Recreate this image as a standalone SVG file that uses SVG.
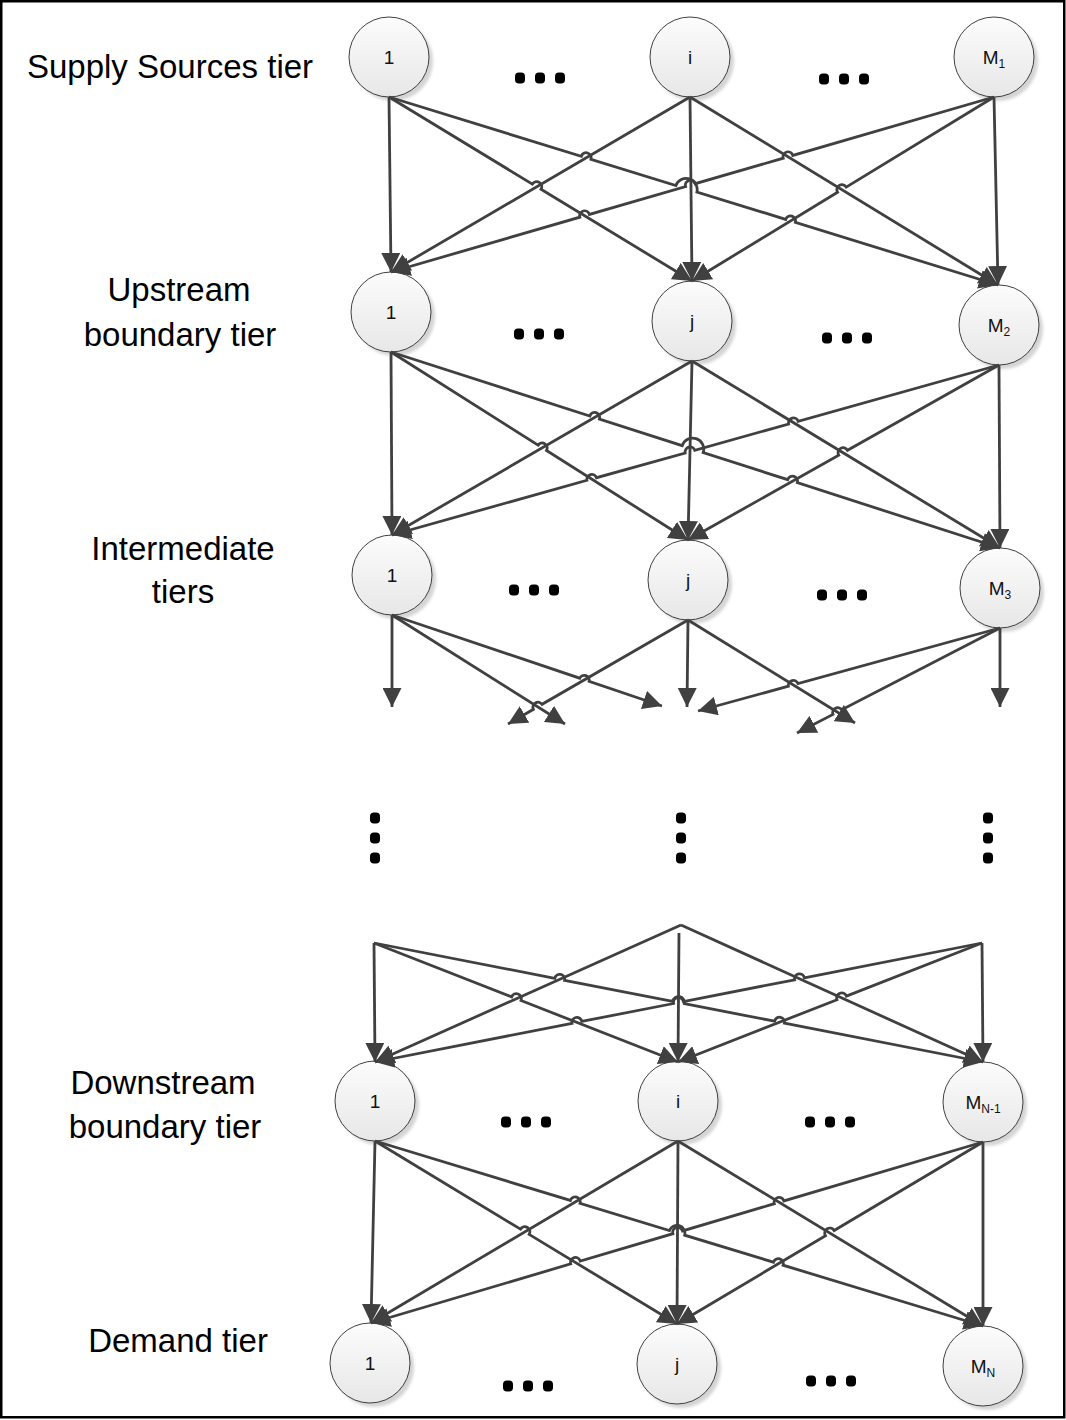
<svg xmlns="http://www.w3.org/2000/svg" width="1066" height="1420" viewBox="0 0 1066 1420">
  <defs>
    <style>
      .tier { font-family: "Liberation Sans", Arial, sans-serif; font-size: 33px; fill: #000; text-anchor: middle; }
      .lbl { font-family: "Liberation Sans", Arial, sans-serif; font-size: 19px; fill: #111; text-anchor: middle; }
      .sub { font-size: 12px; }
      .body { fill: url(#nodeFill); stroke: #404040; stroke-width: 1; }
      .shadow { fill: #d4d4d4; filter: url(#soft); }
      .c { fill: none; stroke: #404040; stroke-width: 2.8; marker-end: url(#ah); }
      .dot { fill: #000; }
    </style>
    <linearGradient id="nodeFill" x1="0" y1="0" x2="0" y2="1">
      <stop offset="0" stop-color="#fcfcfc"/>
      <stop offset="1" stop-color="#e7e7e7"/>
    </linearGradient>
    <filter id="soft" x="-20%" y="-20%" width="140%" height="140%">
      <feGaussianBlur stdDeviation="1.6"/>
    </filter>
    <marker id="ah" markerUnits="userSpaceOnUse" markerWidth="19" markerHeight="19" refX="19" refY="9.5" orient="auto">
      <path d="M0,0 L19,9.5 L0,19 z" fill="#404040"/>
    </marker>
    <rect id="d" class="dot" x="-5" y="-5.5" width="10" height="11" rx="4"/>
  </defs>

  <rect x="1.25" y="1.25" width="1063" height="1416" fill="#fff" stroke="#000" stroke-width="2.5"/>

  <!-- tier captions -->
  <g id="captions">
    <text class="tier" x="170" y="78">Supply Sources tier</text>
    <text class="tier" x="179" y="301">Upstream</text>
    <text class="tier" x="180" y="346">boundary tier</text>
    <text class="tier" x="183" y="560">Intermediate</text>
    <text class="tier" x="183" y="603">tiers</text>
    <text class="tier" x="163" y="1094">Downstream</text>
    <text class="tier" x="165" y="1138">boundary tier</text>
    <text class="tier" x="178" y="1352">Demand tier</text>
  </g>

  <!-- supply sources tier -->
  <g id="s1"><circle class="shadow" cx="393" cy="61" r="40"/><circle class="body" cx="389" cy="57" r="40"/><text class="lbl" x="389" y="64">1</text></g>
  <g id="si"><circle class="shadow" cx="694" cy="61" r="40"/><circle class="body" cx="690" cy="57" r="40"/><text class="lbl" x="690" y="64">i</text></g>
  <g id="sM1"><circle class="shadow" cx="998" cy="61" r="40"/><circle class="body" cx="994" cy="57" r="40"/><text class="lbl" x="994" y="64">M<tspan class="sub" dy="4">1</tspan></text></g>

  <!-- upstream boundary tier -->
  <g id="u1"><circle class="shadow" cx="395" cy="316" r="40"/><circle class="body" cx="391" cy="312" r="40"/><text class="lbl" x="391" y="319">1</text></g>
  <g id="uj"><circle class="shadow" cx="696" cy="325" r="40"/><circle class="body" cx="692" cy="321" r="40"/><text class="lbl" x="692" y="328">j</text></g>
  <g id="uM2"><circle class="shadow" cx="1003" cy="329" r="40"/><circle class="body" cx="999" cy="325" r="40"/><text class="lbl" x="999" y="332">M<tspan class="sub" dy="4">2</tspan></text></g>

  <!-- intermediate tiers -->
  <g id="m1"><circle class="shadow" cx="396" cy="579" r="40"/><circle class="body" cx="392" cy="575" r="40"/><text class="lbl" x="392" y="582">1</text></g>
  <g id="mj"><circle class="shadow" cx="692" cy="584" r="40"/><circle class="body" cx="688" cy="580" r="40"/><text class="lbl" x="688" y="587">j</text></g>
  <g id="mM3"><circle class="shadow" cx="1004" cy="592" r="40"/><circle class="body" cx="1000" cy="588" r="40"/><text class="lbl" x="1000" y="595">M<tspan class="sub" dy="4">3</tspan></text></g>

  <!-- downstream boundary tier -->
  <g id="b1"><circle class="shadow" cx="379" cy="1105" r="40"/><circle class="body" cx="375" cy="1101" r="40"/><text class="lbl" x="375" y="1108">1</text></g>
  <g id="bi"><circle class="shadow" cx="682" cy="1105" r="40"/><circle class="body" cx="678" cy="1101" r="40"/><text class="lbl" x="678" y="1108">i</text></g>
  <g id="bMN1"><circle class="shadow" cx="987" cy="1106" r="40"/><circle class="body" cx="983" cy="1102" r="40"/><text class="lbl" x="983" y="1109">M<tspan class="sub" dy="4">N-1</tspan></text></g>

  <!-- demand tier -->
  <g id="d1"><circle class="shadow" cx="374" cy="1367" r="40"/><circle class="body" cx="370" cy="1363" r="40"/><text class="lbl" x="370" y="1370">1</text></g>
  <g id="dj"><circle class="shadow" cx="681" cy="1368" r="40"/><circle class="body" cx="677" cy="1364" r="40"/><text class="lbl" x="677" y="1371">j</text></g>
  <g id="dMN"><circle class="shadow" cx="987" cy="1370" r="40"/><circle class="body" cx="983" cy="1366" r="40"/><text class="lbl" x="983" y="1373">M<tspan class="sub" dy="4">N</tspan></text></g>

  <!-- ellipses between nodes -->
  <g id="ellipses">
    <use href="#d" x="520" y="78"/><use href="#d" x="540" y="78"/><use href="#d" x="560" y="78"/>
    <use href="#d" x="824" y="79"/><use href="#d" x="844" y="79"/><use href="#d" x="864" y="79"/>
    <use href="#d" x="519" y="334"/><use href="#d" x="539" y="334"/><use href="#d" x="559" y="334"/>
    <use href="#d" x="827" y="338"/><use href="#d" x="847" y="338"/><use href="#d" x="867" y="338"/>
    <use href="#d" x="514" y="590"/><use href="#d" x="534" y="590"/><use href="#d" x="554" y="590"/>
    <use href="#d" x="822" y="595"/><use href="#d" x="842" y="595"/><use href="#d" x="862" y="595"/>
    <use href="#d" x="506" y="1122"/><use href="#d" x="526" y="1122"/><use href="#d" x="546" y="1122"/>
    <use href="#d" x="810" y="1122"/><use href="#d" x="830" y="1122"/><use href="#d" x="850" y="1122"/>
    <use href="#d" x="508" y="1386"/><use href="#d" x="528" y="1386"/><use href="#d" x="548" y="1386"/>
    <use href="#d" x="811" y="1381"/><use href="#d" x="831" y="1381"/><use href="#d" x="851" y="1381"/>
    <use href="#d" x="375" y="818"/><use href="#d" x="375" y="838"/><use href="#d" x="375" y="858"/>
    <use href="#d" x="681" y="818"/><use href="#d" x="681" y="838"/><use href="#d" x="681" y="858"/>
    <use href="#d" x="988" y="818"/><use href="#d" x="988" y="838"/><use href="#d" x="988" y="858"/>
  </g>

  <g id="connectors">
    <!-- supply sources to upstream boundary -->
    <path class="c" d="M389,97 L391,272"/>
    <path class="c" d="M389,97 L532.4,184.1 A5,5 0 0 1 541.0,189.3 L692,281"/>
    <path class="c" d="M389,97 L581.3,156.3 A5,5 0 0 1 590.9,159.3 L675.9,185.6 A11,11 0 0 1 696.9,192.0 L785.7,219.4 A5,5 0 0 1 795.3,222.4 L998,285"/>
    <path class="c" d="M690,97 L391,272"/>
    <path class="c" d="M690,97 L692,281"/>
    <path class="c" d="M690,97 L998,285"/>
    <path class="c" d="M994,97 L792.8,155.4 A5,5 0 0 0 783.2,158.2 L695.2,183.7 A5,5 0 0 0 685.6,186.5 L589.4,214.4 A5,5 0 0 0 579.8,217.2 L391,272"/>
    <path class="c" d="M994,97 L846.2,187.1 A5,5 0 0 0 837.6,192.3 L692,281"/>
    <path class="c" d="M994,97 L998,285"/>

    <!-- upstream boundary to intermediate -->
    <path class="c" d="M391,352 L392,535"/>
    <path class="c" d="M391,352 L538.1,445.1 A5,5 0 0 1 546.5,450.5 L688,540"/>
    <path class="c" d="M391,352 L589.8,416.0 A5,5 0 0 1 599.4,419.0 L682.2,445.7 A11,11 0 0 1 703.2,452.5 L787.7,479.7 A5,5 0 0 1 797.3,482.7 L1000,548"/>
    <path class="c" d="M692,361 L392,535"/>
    <path class="c" d="M692,361 L688,540"/>
    <path class="c" d="M692,361 L1000,548"/>
    <path class="c" d="M999,365 L798.2,421.3 A5,5 0 0 0 788.6,424.0 L694.8,450.3 A5,5 0 0 0 685.2,453.0 L596.5,477.7 A5,5 0 0 0 586.9,480.3 L392,535"/>
    <path class="c" d="M999,365 L847.5,450.3 A5,5 0 0 0 838.7,455.2 L688,540"/>
    <path class="c" d="M999,365 L1000,548"/>

    <!-- intermediate outgoing -->
    <path class="c" d="M392,615 L392,707"/>
    <path class="c" d="M392,615 L565,724"/>
    <path class="c" d="M392,615 L579.7,678.2 A5,5 0 0 1 589.1,681.4 L662,706"/>
    <path class="c" d="M688,620 L542.0,704.3 A5,5 0 0 0 533.4,709.3 L508,724"/>
    <path class="c" d="M688,620 L687,707"/>
    <path class="c" d="M688,620 L855,723"/>
    <path class="c" d="M1000,628 L798.0,683.6 A5,5 0 0 0 788.4,686.2 L698,711"/>
    <path class="c" d="M1000,628 L841.8,709.8 A5,5 0 0 0 833.0,714.4 L797,733"/>
    <path class="c" d="M1000,628 L1000,707"/>

    <!-- incoming to downstream boundary -->
    <path class="c" d="M374,943 L375,1062"/>
    <path class="c" d="M374,943 L511.6,996.9 A5,5 0 0 1 521.0,1000.5 L678,1062"/>
    <path class="c" d="M374,943 L554.8,978.3 A5,5 0 0 1 564.6,980.3 L672.6,1001.4 A6,6 0 0 1 684.4,1003.7 L774.6,1021.2 A5,5 0 0 1 784.4,1023.2 L983,1062"/>
    <path class="c" d="M681,925 L375,1062"/>
    <path class="c" d="M679,933 L678,1062"/>
    <path class="c" d="M681,925 L983,1062"/>
    <path class="c" d="M982,943 L804.4,977.8 A5,5 0 0 0 794.6,979.8 L683.4,1001.5 A5,5 0 0 0 673.6,1003.5 L581.8,1021.4 A5,5 0 0 0 572.0,1023.4 L375,1062"/>
    <path class="c" d="M982,943 L846.4,996.1 A5,5 0 0 0 837.0,999.7 L678,1062"/>
    <path class="c" d="M982,943 L983,1062"/>

    <!-- downstream boundary to demand -->
    <path class="c" d="M375,1141 L371,1323"/>
    <path class="c" d="M375,1141 L520.5,1229.2 A5,5 0 0 1 529.1,1234.4 L677,1324"/>
    <path class="c" d="M375,1141 L570.4,1200.4 A5,5 0 0 1 580.0,1203.4 L669.4,1230.6 A8,8 0 0 1 684.7,1235.2 L773.5,1262.2 A5,5 0 0 1 783.1,1265.2 L983,1326"/>
    <path class="c" d="M678,1141 L371,1323"/>
    <path class="c" d="M678,1141 L677,1324"/>
    <path class="c" d="M678,1141 L983,1326"/>
    <path class="c" d="M983,1142 L783.9,1200.9 A5,5 0 0 0 774.3,1203.7 L682.5,1230.9 A5,5 0 0 0 672.9,1233.7 L580.3,1261.1 A5,5 0 0 0 570.7,1263.9 L371,1323"/>
    <path class="c" d="M983,1142 L834.1,1230.5 A5,5 0 0 0 825.5,1235.7 L677,1324"/>
    <path class="c" d="M983,1142 L983,1326"/>
  </g>
</svg>
